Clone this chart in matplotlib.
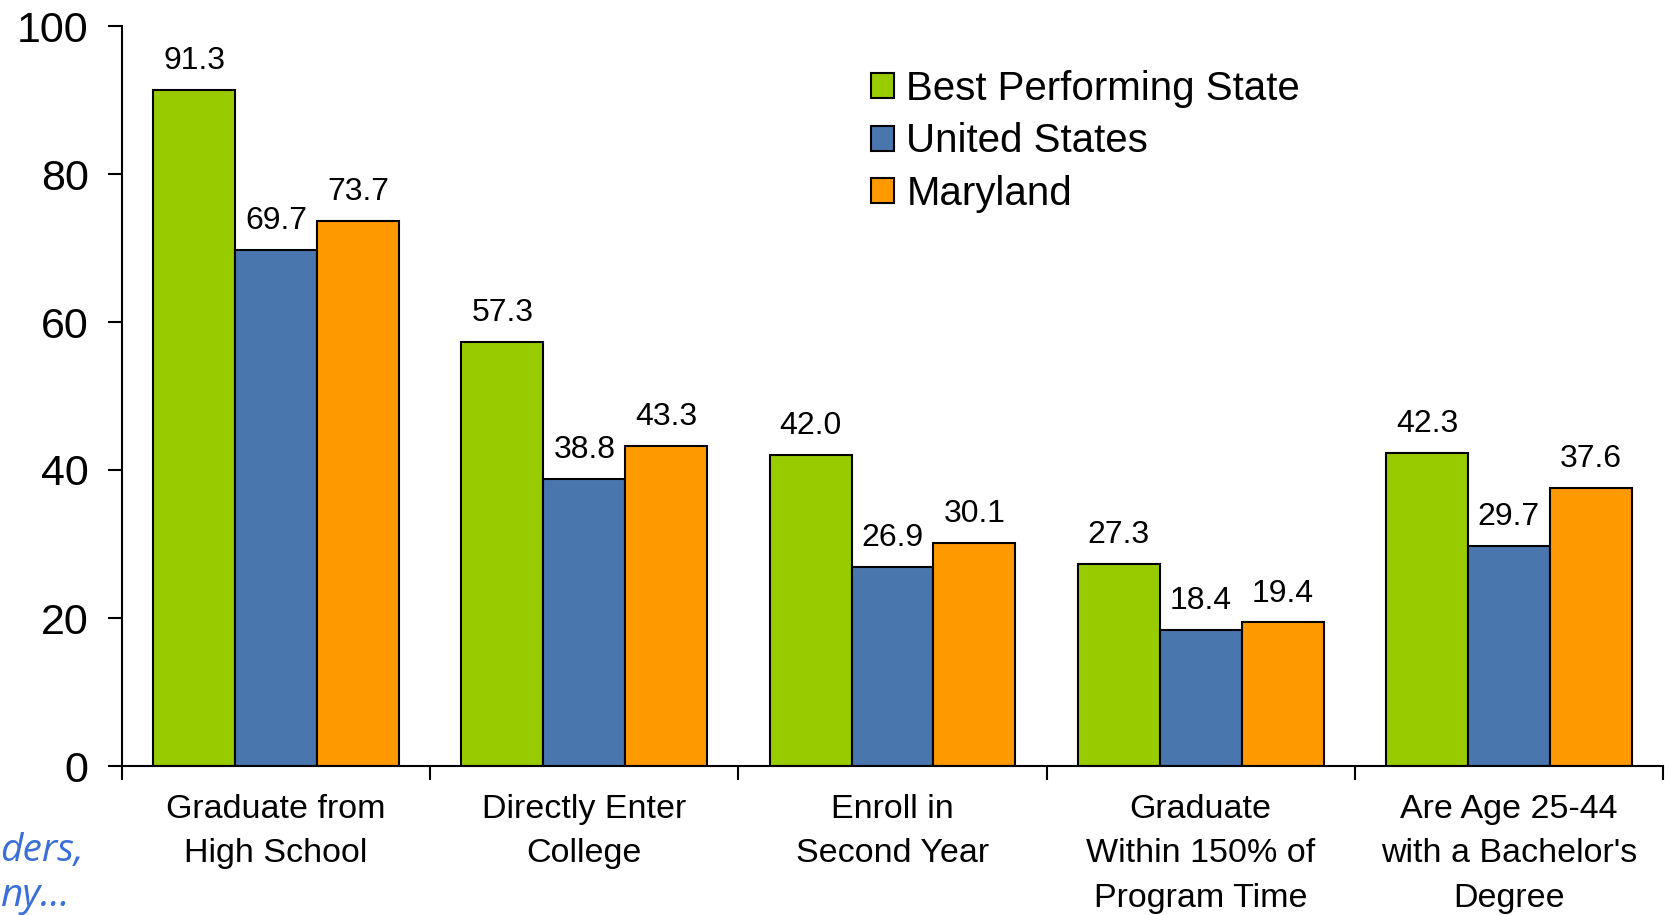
import matplotlib
matplotlib.use("Agg")
import matplotlib.pyplot as plt
import numpy as np

categories = ["Graduate from\nHigh School", "Directly Enter\nCollege", "Enroll in\nSecond Year",
              "Graduate\nWithin 150% of\nProgram Time", "Are Age 25-44\nwith a Bachelor's\nDegree"]
series_names = ["Best Performing State", "United States", "Maryland"]
best_state = [91.3, 57.3, 42.0, 27.3, 42.3]
united_states = [69.7, 38.8, 26.9, 18.4, 29.7]
maryland = [73.7, 43.3, 30.1, 19.4, 37.6]
colors = ["#99CC00", "#4A76AE", "#FF9900"]
yticks = [0, 20, 40, 60, 80, 100]

plt.rcParams['font.family'] = ['Liberation Sans', 'DejaVu Sans']

W, H = 1670, 915
fig = plt.figure(figsize=(W/100, H/100), dpi=100)
ax = fig.add_axes([122/W, 1-766/H, (1663-122)/W, (766-26)/H])

x = np.arange(len(categories))
bw = 0.266
for i, (vals, name, c) in enumerate(zip([best_state, united_states, maryland], series_names, colors)):
    bars = ax.bar(x + (i-1)*bw, vals, bw, color=c, edgecolor='black', linewidth=1.5, label=name)
    ax.bar_label(bars, labels=[f"{v:.1f}" for v in vals], padding=10, fontsize=23)

ax.set_xlim(-0.5, len(categories)-0.5)
ax.set_ylim(0, 100)
ax.set_yticks(yticks)
ax.set_yticklabels([str(t) for t in yticks], fontsize=31)
ax.tick_params(axis='y', length=10, width=1.5, pad=14)
ax.set_xticks(x)
ax.set_xticklabels(categories, fontsize=24.5, linespacing=1.56)
ax.tick_params(axis='x', which='major', length=0, pad=20)
ax.set_xticks(np.arange(-0.5, len(categories)), minor=True)
ax.tick_params(axis='x', which='minor', length=10, width=1.5, direction='out')
for s in ['top', 'right']:
    ax.spines[s].set_visible(False)
for s in ['left', 'bottom']:
    ax.spines[s].set_linewidth(1.5)

leg = ax.legend(loc='upper left', bbox_to_anchor=(871/W, 1-70/H), bbox_transform=fig.transFigure,
                frameon=False, fontsize=29, handlelength=0.58, handleheight=0.58,
                handletextpad=0.3, labelspacing=0.36, borderaxespad=0, borderpad=0)

fig.text(0.5/W, 1-861/H, "ders,", ha='left', va='baseline', fontsize=28, style='italic',
         color='#3A6FD8', family=['Open Sans', 'DejaVu Sans'])
fig.text(0.5/W, 1-906/H, "ny...", ha='left', va='baseline', fontsize=28, style='italic',
         color='#3A6FD8', family=['Open Sans', 'DejaVu Sans'])

fig.savefig("out.png", dpi=100)
